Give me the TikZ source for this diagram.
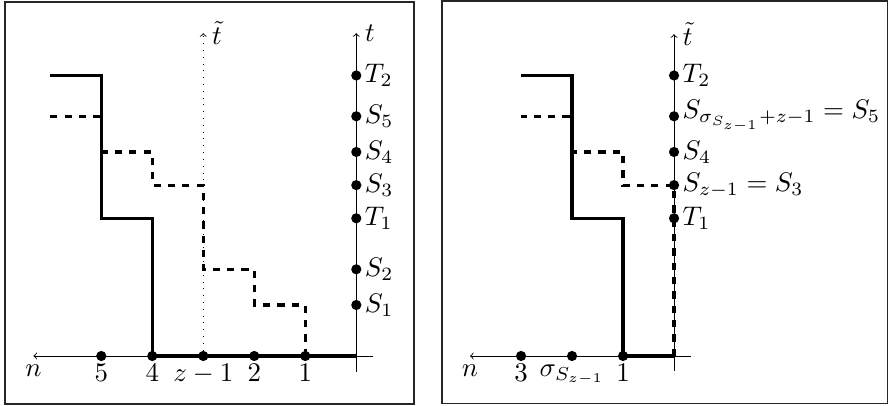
\documentclass[tikz,border=0pt]{standalone}
\begin{document}
\begin{tikzpicture}[x=1cm,y=1cm,
  axis/.style={line width=0.5pt},
  frame/.style={line width=0.6pt, draw=black!85},
  stepline/.style={line width=1.8pt},
  dashline/.style={line width=1.8pt, dash pattern=on 4pt off 4pt},
  dotline/.style={line width=0.5pt, dash pattern=on 0.5pt off 3.3pt},
  dot/.style={circle, fill, inner sep=0pt, minimum size=0.2cm},
  lab/.style={scale=1.5, inner sep=3pt},
]
\useasboundingbox (-6.986,-0.98) rectangle (10.425,6.98);
\draw[frame] (-6.888,-0.941) rectangle (1.131,6.941);
\draw[frame] (1.68,-0.927) rectangle (10.415,6.96);

% ---------- left panel ----------
\coordinate (LO) at (0,0);
\coordinate (LtTop) at (0,6.33);
\coordinate (LtBot) at (0,-0.31);
\coordinate (LnR) at (0.33,0);
\coordinate (LnL) at (-6.33,0);
\coordinate (LzTop) at (-3,6.33);

\draw[stepline] (-6,5.5) -- (-5,5.5) -- (-5,2.7) -- (-4,2.7) -- (-4,0) -- (LO);
\draw[dashline] (-1,0) -- (-1,1) -- (-2,1) -- (-2,1.7) -- (-3,1.7) -- (-3,3.35)
  -- (-4,3.35) -- (-4,4) -- (-5,4) -- (-5,4.7) -- (-6,4.7);
\draw[axis,->] (LtBot) -- (LtTop) node[right,lab] {$t$};
\draw[axis,->] (LnR) -- (LnL) node[below,lab] {$n$};

\node[dot] (Ln5) at (-5,0) {};
\node[dot] (Ln4) at (-4,0) {};
\node[dot] (Lnz) at (-3,0) {};
\node[dot] (Ln2) at (-2,0) {};
\node[dot] (Ln1) at (-1,0) {};
\draw[dotline,->] (Lnz) -- (LzTop) node[right,lab] {$\tilde t$};

\node[lab,below] at (Ln5) {$5$};
\node[lab,below] at (Ln4) {$4$};
\node[lab,below] at (Lnz) {$z-1$};
\node[lab,below] at (Ln2) {$2$};
\node[lab,below] at (Ln1) {$1$};

\node[dot] (LT2) at (0,5.5) {};
\node[dot] (LS5) at (0,4.7) {};
\node[dot] (LS4) at (0,4) {};
\node[dot] (LS3) at (0,3.35) {};
\node[dot] (LT1) at (0,2.7) {};
\node[dot] (LS2) at (0,1.7) {};
\node[dot] (LS1) at (0,1) {};
\node[lab,right] at (LT2) {$T_2$};
\node[lab,right] at (LS5) {$S_5$};
\node[lab,right] at (LS4) {$S_4$};
\node[lab,right] at (LS3) {$S_3$};
\node[lab,right] at (LT1) {$T_1$};
\node[lab,right] at (LS2) {$S_2$};
\node[lab,right] at (LS1) {$S_1$};

% ---------- right panel ----------
\begin{scope}[xshift=6.23cm]
\coordinate (RO) at (0,0);
\coordinate (RtTop) at (0,6.31);
\coordinate (RtBot) at (0,-0.29);
\coordinate (RnR) at (0.33,0);
\coordinate (RnL) at (-4,0);

\draw[stepline] (-3,5.5) -- (-2,5.5) -- (-2,2.7) -- (-1,2.7) -- (-1,0) -- (RO);
\draw[dashline] (RO) -- (0,3.35) -- (-1,3.35) -- (-1,4) -- (-2,4) -- (-2,4.7) -- (-3,4.7);
\draw[axis,->] (RtBot) -- (RtTop) node[right,lab] {$\tilde t$};
\draw[axis,->] (RnR) -- (RnL) node[below,lab] {$n$};

\node[dot] (Rn3) at (-3,0) {};
\node[dot] (Rns) at (-2,0) {};
\node[dot] (Rn1) at (-1,0) {};
\node[lab,below] at (Rn3) {$3$};
\node[lab,below] at (Rns) {$\sigma_{S_{z-1}}$};
\node[lab,below] at (Rn1) {$1$};

\node[dot] (RT2) at (0,5.5) {};
\node[dot] (RS5) at (0,4.7) {};
\node[dot] (RS4) at (0,4) {};
\node[dot] (RS3) at (0,3.35) {};
\node[dot] (RT1) at (0,2.7) {};
\node[lab,right] at (RT2) {$T_2$};
\node[lab,right] at (RS5) {$S_{\sigma_{S_{z-1}}+z-1}=S_5$};
\node[lab,right] at (RS4) {$S_4$};
\node[lab,right] at (RS3) {$S_{z-1}=S_3$};
\node[lab,right] at (RT1) {$T_1$};
\end{scope}
\end{tikzpicture}
\end{document}
